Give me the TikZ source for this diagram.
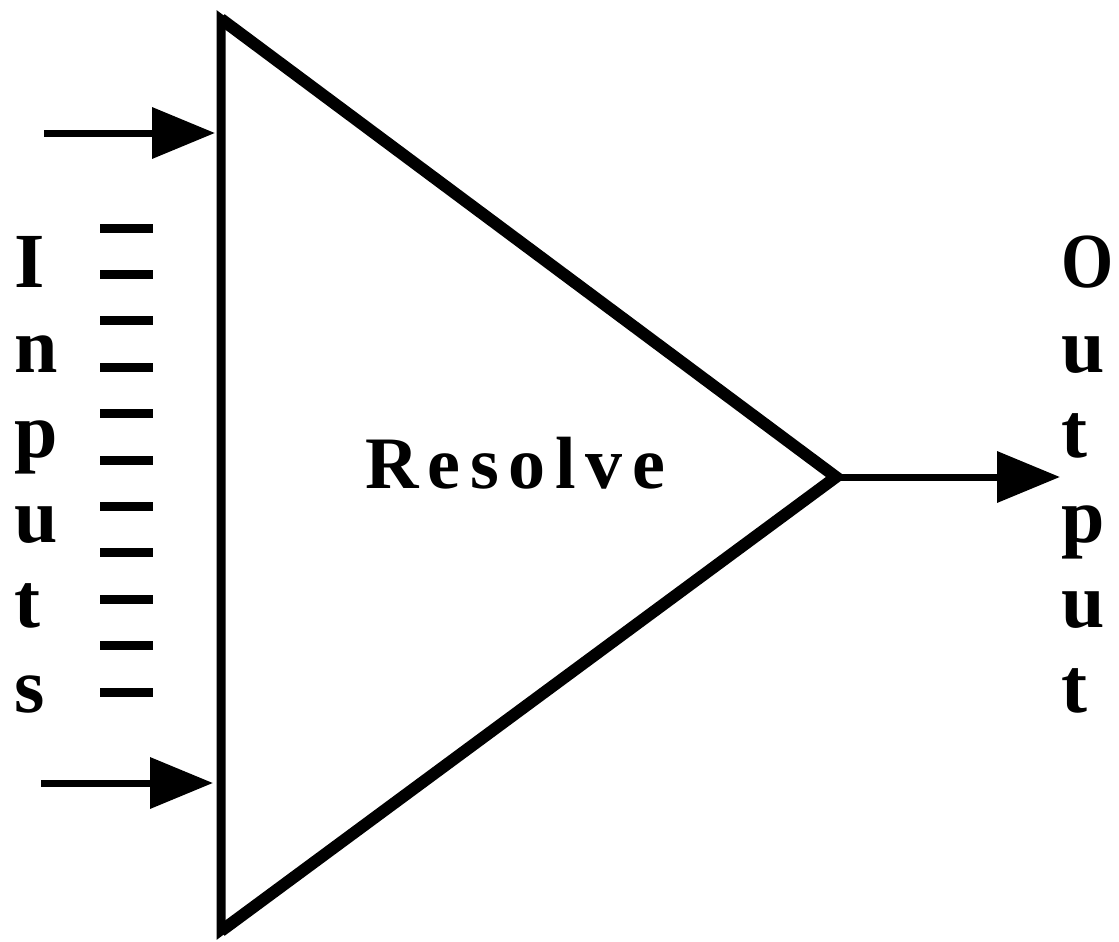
\documentclass[tikz,border=0pt]{standalone}
\usepackage{fontspec}
\setmainfont{Liberation Serif}
\usetikzlibrary{arrows.meta}
\begin{document}
\begin{tikzpicture}[x=1pt,y=-1pt,
  edge/.style={line width=9pt,line join=miter},
  slant/.style={line width=12pt,line join=miter},
  feed/.style={line width=7pt,-{Triangle[length=63pt,width=50pt]}},
  tick/.style={line width=9pt},
  letter/.style={anchor=base west,inner sep=0pt,font=\fontsize{78}{78}\selectfont\bfseries},
  title/.style={anchor=base,inner sep=0pt,font=\fontsize{74}{74}\selectfont\bfseries}]
\useasboundingbox (0,0) rectangle (1119,942);
% triangle
\coordinate (T) at (221,19);
\coordinate (B) at (221,931);
\coordinate (A) at (836,477);
\draw[edge] (T) -- (A) -- (B) -- cycle;
\draw[slant] (T) -- (A) -- (B);
\node[title] (res) at (515,488) {\makebox[300pt][s]{R\hfill e\hfill s\hfill o\hfill l\hfill v\hfill e}};
% input arrows
\coordinate (i1s) at (44,133);
\coordinate (i1e) at (215,133);
\coordinate (i2s) at (41,783);
\coordinate (i2e) at (213,783);
\draw[feed] (i1s) -- (i1e);
\draw[feed] (i2s) -- (i2e);
% output arrow
\coordinate (oe) at (1060,477);
\draw[feed] (A) -- (oe);
% ticks
\foreach \k in {0,...,10}{
  \coordinate (d\k a) at (100,{228+46.4*\k});
  \coordinate (d\k b) at (153,{228+46.4*\k});
  \draw[tick] (d\k a) -- (d\k b);
}
% labels
\foreach \ch [count=\i from 0] in {I,n,p,u,t,s}
  \node[letter] (in\i) at (14,{287+85*\i}) {\ch};
\node[letter] (out0) at (1061,287) {\scalebox{0.86}[1]{O}};
\foreach \ch [count=\i from 1] in {u,t,p,u,t}
  \node[letter] (out\i) at (1061,{287+85*\i}) {\ch};
\end{tikzpicture}
\end{document}
